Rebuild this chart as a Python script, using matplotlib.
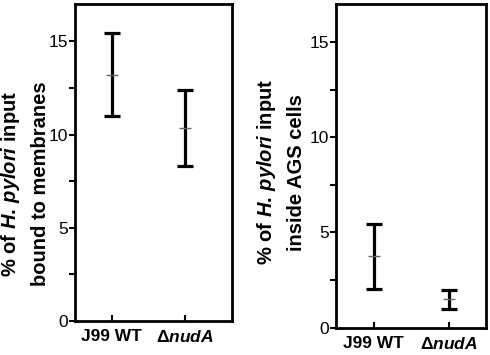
import matplotlib
matplotlib.use("Agg")
import matplotlib.pyplot as plt
from matplotlib.ticker import MultipleLocator

plt.rcParams['font.family'] = ['Liberation Sans', 'DejaVu Sans']
plt.rcParams['mathtext.fontset'] = 'custom'
plt.rcParams['mathtext.it'] = 'Liberation Sans:italic:bold'
plt.rcParams['mathtext.rm'] = 'Liberation Sans:bold'
plt.rcParams['mathtext.bf'] = 'Liberation Sans:bold'

categories = ["J99 WT", "Δ$\\mathit{nudA}$"]
# Left panel: bound to membranes
bound_mean = [13.2, 10.35]
bound_low = [11.0, 8.3]
bound_high = [15.45, 12.4]
# Right panel: inside AGS cells
inside_mean = [3.75, 1.5]
inside_low = [2.05, 0.97]
inside_high = [5.45, 1.98]

ylabels = ["% of $\\mathit{H.\\,pylori}$ input\nbound to membranes",
           "% of $\\mathit{H.\\,pylori}$ input\ninside AGS cells"]

fig = plt.figure(figsize=(4.9, 3.55), dpi=100)
ax1 = fig.add_axes([0.153, 0.0958, 0.320, 0.893])
ax2 = fig.add_axes([0.686, 0.0769, 0.306, 0.912])

def draw(ax, mean, low, high, xlim):
    x = list(range(len(mean)))
    lo_err = [m - l for m, l in zip(mean, low)]
    hi_err = [h - m for m, h in zip(mean, high)]
    ax.errorbar(x, mean, yerr=[lo_err, hi_err], fmt='none', ecolor='black',
                elinewidth=2.3, capsize=6, capthick=2.3, zorder=2)
    ax.plot(x, mean, linestyle='none', marker='_', markersize=9,
            markeredgewidth=1.0, color='#666666', zorder=3)
    ax.set_xlim(*xlim)
    ax.set_ylim(0, 17)
    ax.yaxis.set_major_locator(MultipleLocator(5))
    ax.yaxis.set_minor_locator(MultipleLocator(2.5))
    ax.set_xticks(x)
    ax.set_xticklabels(categories, fontsize=12.5, fontweight='bold')
    ax.tick_params(axis='y', which='both', direction='out', length=4, width=1.5,
                   labelsize=12.5, pad=1)
    ax.tick_params(axis='x', direction='in', length=4, width=1.5, pad=6)
    for s in ax.spines.values():
        s.set_linewidth(2.0)

draw(ax1, bound_mean, bound_low, bound_high, (-0.5, 1.64))
draw(ax2, inside_mean, inside_low, inside_high, (-0.5, 1.5))

fig.text(0.051, 0.483, ylabels[0], rotation=90, ha='center', va='center',
         multialignment='center', fontsize=14.5, fontweight='bold', linespacing=1.6)
fig.text(0.572, 0.515, ylabels[1], rotation=90, ha='center', va='center',
         multialignment='center', fontsize=14.5, fontweight='bold', linespacing=1.6)

fig.savefig("out.png", dpi=100)
